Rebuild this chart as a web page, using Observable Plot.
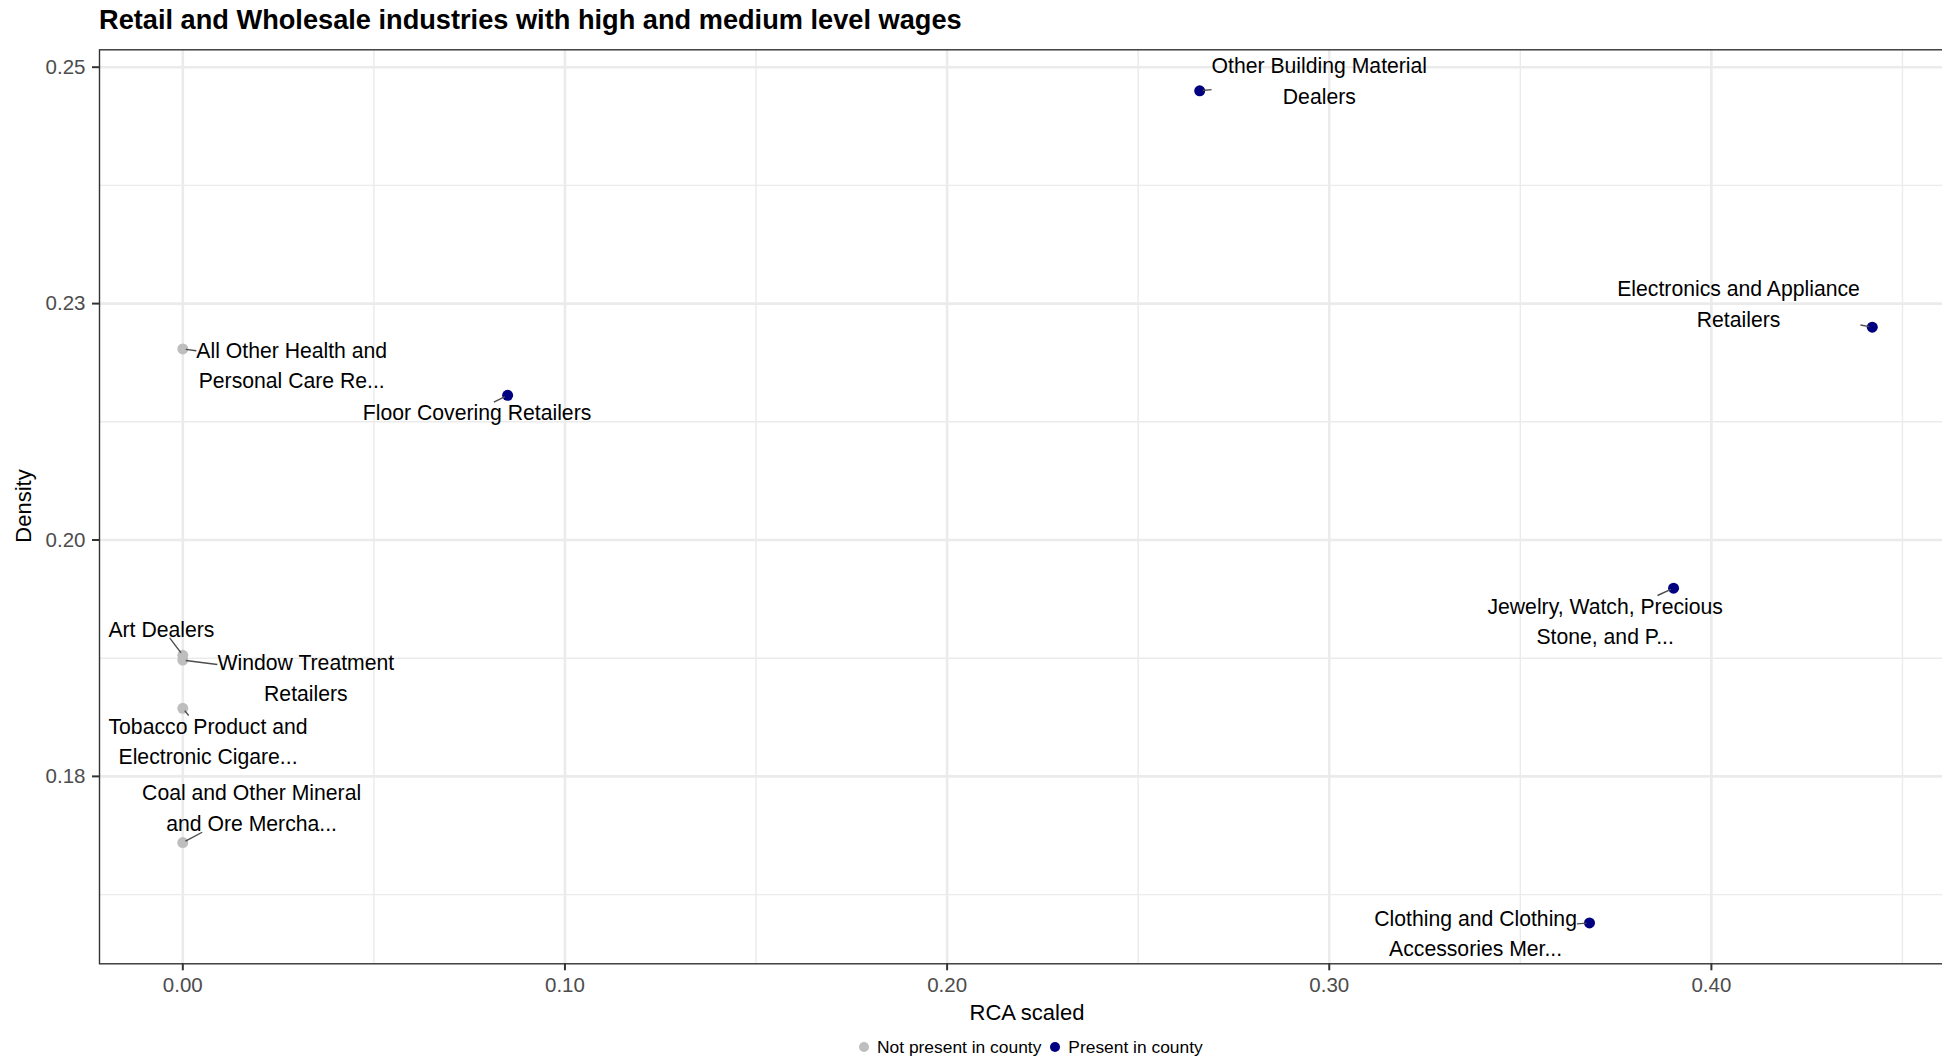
<!DOCTYPE html>
<html>
<head>
<meta charset="utf-8">
<script src="https://cdn.jsdelivr.net/npm/d3@7"></script>
<script src="https://cdn.jsdelivr.net/npm/@observablehq/plot@0.6"></script>
<style>
html, body { margin: 0; padding: 0; background: #fff; overflow: hidden; width: 1942px; height: 1058px; }
#wrap { position: relative; width: 1942px; height: 1058px; overflow: hidden; font-family: "Liberation Sans", Arial, Helvetica, sans-serif; }
#title { position: absolute; left: 99px; top: 1px; height: 38px; line-height: 38px; font-weight: bold; font-size: 27.2px; color: #000; white-space: nowrap; }
#chart { position: absolute; left: 0; top: 38px; width: 1957px; }
#chart svg { max-width: none !important; width: 1957px; height: 1000px; }
#xtitle { position: absolute; left: 827px; width: 400px; top: 1000px; line-height: 26px; font-size: 22px; text-align: center; color: #000; }
#ytitle { position: absolute; left: -75.8px; width: 200px; top: 493px; height: 26px; line-height: 26px; font-size: 22px; text-align: center; color: #000; transform: rotate(-90deg); transform-origin: 50% 50%; }
#legend { position: absolute; left: 859px; top: 1037px; height: 20px; line-height: 20px; font-size: 17.4px; color: #000; white-space: nowrap; display: flex; align-items: center; }
#legend .dot { display: inline-block; width: 10px; height: 10px; border-radius: 50%; }
#legend .lab { margin-left: 8px; margin-right: 9px; }
</style>
</head>
<body>
<div id="wrap">
  <div id="title">Retail and Wholesale industries with high and medium level wages</div>
  <div id="chart"></div>
  <div id="xtitle">RCA scaled</div>
  <div id="ytitle">Density</div>
  <div id="legend"></div>
</div>
<script>
// ---- data ----
const labels = [
  "Other Building Material\nDealers",
  "Electronics and Appliance\nRetailers",
  "All Other Health and\nPersonal Care Re...",
  "Floor Covering Retailers",
  "Jewelry, Watch, Precious\nStone, and P...",
  "Art Dealers",
  "Window Treatment\nRetailers",
  "Tobacco Product and\nElectronic Cigare...",
  "Coal and Other Mineral\nand Ore Mercha...",
  "Clothing and Clothing\nAccessories Mer..."
];
const rcaScaled = [0.2661, 0.4421, 0, 0.0850, 0.3901, 0, 0, 0, 0, 0.3681];
const density   = [0.2475, 0.2225, 0.2202, 0.2153, 0.1949, 0.1878, 0.1873, 0.1822, 0.1680, 0.1595];
const presence  = ["Present in county", "Present in county", "Not present in county", "Present in county",
                   "Present in county", "Not present in county", "Not present in county",
                   "Not present in county", "Not present in county", "Present in county"];
// repelled label anchor positions (data units), as placed in the reference
const labelRca     = [0.2974, 0.4071, 0.0285, 0.0770, 0.3722, -0.0056, 0.0322, 0.0066, 0.0180, 0.3383];
const labelDensity = [0.24879, 0.22520, 0.21869, 0.21367, 0.19162, 0.19082, 0.18562, 0.17893, 0.17187, 0.15865];

const legendKeys = ["Not present in county", "Present in county"];
const legendColors = ["#BEBEBE", "#000080"];

const xTicks = [0, 0.1, 0.2, 0.3, 0.4];
const xTickLabels = ["0.00", "0.10", "0.20", "0.30", "0.40"];
const xMinor = [0.05, 0.15, 0.25, 0.35, 0.45];
const yTicks = [0.175, 0.2, 0.225, 0.25];
const yTickLabels = ["0.18", "0.20", "0.23", "0.25"];
const yMinor = [0.1625, 0.1875, 0.2125, 0.2375];
const xDomain = [-0.0218, 0.4644];
const yDomain = [0.15518, 0.25184];

// ---- layout ----
const W = 1957, H = 1000;
const mL = 99, mR = 0, mT = 11.3, mB = 74.7;
const fs = 21.2, LH = 30.5;
const FONT = '"Liberation Sans", Arial, Helvetica, sans-serif';

const rows = labels.map((label, i) => ({
  label, x: rcaScaled[i], y: density[i], lx: labelRca[i], ly: labelDensity[i], present: presence[i]
}));

// scales for computing repel segments (label bbox edge -> point)
const xs = Plot.scale({x: {domain: xDomain, range: [mL, W - mR]}});
const ys = Plot.scale({y: {domain: yDomain, range: [H - mB, mT]}});
const ctx = document.createElement("canvas").getContext("2d");
ctx.font = `${fs}px ${FONT}`;
const pad = 0, shrink = 3;
const segments = [];
for (const d of rows) {
  const px = xs.apply(d.x), py = ys.apply(d.y);
  const cx = xs.apply(d.lx), cy = ys.apply(d.ly);
  const lines = d.label.split("\n");
  const n = lines.length;
  const w = Math.max(...lines.map(l => ctx.measureText(l).width)) + 2 * pad;
  const left = cx - w / 2, right = cx + w / 2;
  const top = cy - (n - 1) / 2 * LH + 0.32 * fs - 0.72 * fs - pad;
  const bottom = cy + (n - 1) / 2 * LH + 0.32 * fs + 0.2 * fs + pad;
  const dx = cx - px, dy = cy - py;
  const tx = dx === 0 ? -Infinity : (dx > 0 ? (left - px) / dx : (right - px) / dx);
  const ty = dy === 0 ? -Infinity : (dy > 0 ? (top - py) / dy : (bottom - py) / dy);
  const t = Math.max(tx, ty);
  if (!(t > 0)) continue;
  const ex = px + t * dx, ey = py + t * dy;
  const len = Math.hypot(ex - px, ey - py);
  if (len <= shrink + 1) continue;
  const sx = px + (ex - px) * shrink / len, sy = py + (ey - py) * shrink / len;
  segments.push({x1: xs.invert(sx), y1: ys.invert(sy), x2: xs.invert(ex), y2: ys.invert(ey)});
}

const plot = Plot.plot({
  width: W, height: H,
  marginLeft: mL, marginRight: mR, marginTop: mT, marginBottom: mB,
  style: {fontFamily: FONT, background: "white", overflow: "visible", maxWidth: "none"},
  x: {domain: xDomain},
  y: {domain: yDomain},
  color: {domain: legendKeys, range: legendColors},
  marks: [
    Plot.gridX(xMinor, {stroke: "#EBEBEB", strokeOpacity: 1, strokeWidth: 1.4}),
    Plot.gridY(yMinor, {stroke: "#EBEBEB", strokeOpacity: 1, strokeWidth: 1.4}),
    Plot.gridX(xTicks, {stroke: "#EBEBEB", strokeOpacity: 1, strokeWidth: 2.6}),
    Plot.gridY(yTicks, {stroke: "#EBEBEB", strokeOpacity: 1, strokeWidth: 2.6}),
    Plot.dot(rows, {x: "x", y: "y", r: 5.5, fill: "present", stroke: null}),
    Plot.link(segments, {x1: "x1", y1: "y1", x2: "x2", y2: "y2", stroke: "#4d4d4d", strokeWidth: 1.4}),
    Plot.text(rows, {x: "lx", y: "ly", text: "label", fontSize: fs, lineHeight: LH / fs,
      textAnchor: "middle", lineAnchor: "middle", fill: "#000"}),
    Plot.frame({stroke: "#333333", strokeWidth: 1.4}),
    Plot.axisX(xTicks, {tickFormat: d => xTickLabels[xTicks.indexOf(d)], tickSize: 7, tickPadding: 7,
      fontSize: 20.5, stroke: "#333333", strokeWidth: 2, fill: "#4D4D4D", label: null}),
    Plot.axisY(yTicks, {tickFormat: d => yTickLabels[yTicks.indexOf(d)], tickSize: 7, tickPadding: 7,
      fontSize: 20.5, stroke: "#333333", strokeWidth: 2, fill: "#4D4D4D", label: null})
  ]
});
document.getElementById("chart").appendChild(plot);

// legend
const leg = document.getElementById("legend");
legendKeys.forEach((k, i) => {
  const dot = document.createElement("span");
  dot.className = "dot";
  dot.style.background = legendColors[i];
  const lab = document.createElement("span");
  lab.className = "lab";
  lab.textContent = k;
  leg.appendChild(dot);
  leg.appendChild(lab);
});
</script>
</body>
</html>
